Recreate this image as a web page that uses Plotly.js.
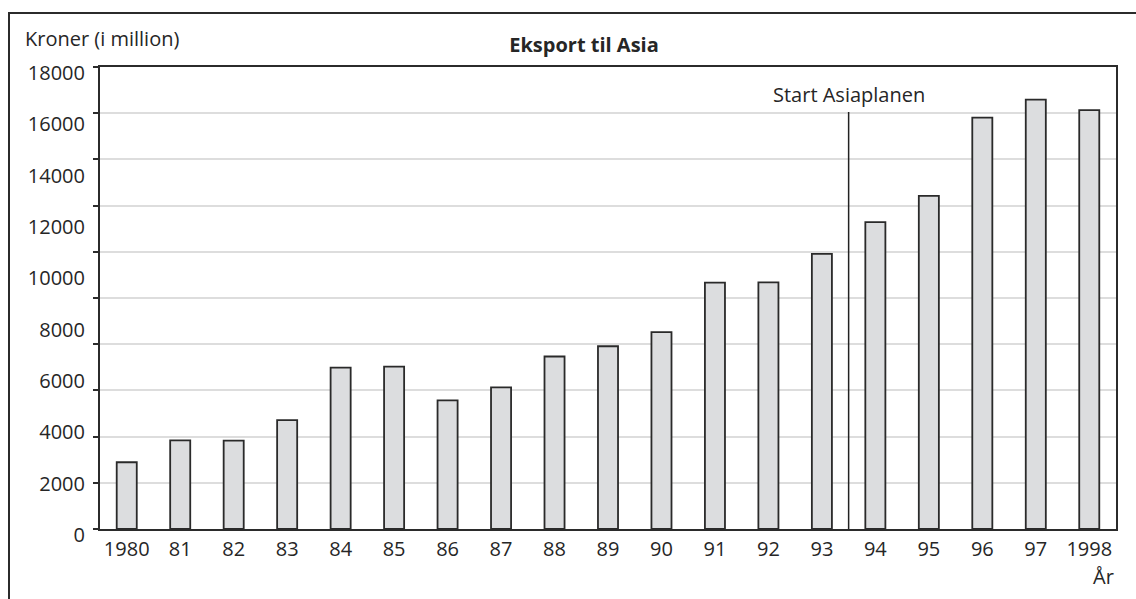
<!DOCTYPE html>
<html>
<head>
<meta charset="utf-8">
<script src="https://cdn.plot.ly/plotly-3.0.1.min.js"></script>
<style>
  html, body { margin: 0; padding: 0; background: #fff; }
  #wrap { position: relative; width: 1136px; height: 599px; overflow: hidden; background: #fff; }
  #frame { position: absolute; left: 8px; top: 12px; width: 2000px; height: 2000px;
           border-left: 2px solid #2b2b2b; border-top: 2px solid #2b2b2b; }
  #chart { position: absolute; left: 0; top: 0; width: 1136px; height: 599px; }
</style>
</head>
<body>
<div id="wrap">
  <div id="frame"></div>
  <div id="chart"></div>
</div>
<script>
// Data
var years = ['1980','81','82','83','84','85','86','87','88','89','90','91','92','93','94','95','96','97','1998'];
var exportValues = [2600, 3450, 3440, 4240, 6290, 6330, 5010, 5520, 6720, 7120, 7670, 9600, 9610, 10720, 11960, 12980, 16030, 16730, 16320];
var yLabelValues = [0, 2000, 4000, 6000, 8000, 10000, 12000, 14000, 16000, 18000];
var chartTitle = 'Eksport til Asia';
var yTitle = 'Kroner (i million)';
var xTitle = 'År';
var markerText = 'Start Asiaplanen';
var markerPosition = 13.5;     // between 93 and 94
var markerTop = 16250;

var ink = '#262626';
var fontFam = '"Open Sans", "Noto Sans", sans-serif';

var bars = {
  type: 'bar',
  x: years,
  y: exportValues,
  width: 0.375,
  marker: { color: '#dcdddf', line: { color: '#2a2a2a', width: 1.8 } },
  hoverinfo: 'x+y',
  showlegend: false
};

var labelCarrier = {
  type: 'scatter',
  x: [years[0]],
  y: [0],
  yaxis: 'y2',
  mode: 'markers',
  marker: { opacity: 0 },
  hoverinfo: 'skip',
  showlegend: false
};

var layout = {
  width: 1136,
  height: 599,
  margin: { l: 100, r: 20, t: 67, b: 70 },
  paper_bgcolor: 'rgba(0,0,0,0)',
  plot_bgcolor: 'rgba(0,0,0,0)',
  font: { family: fontFam, size: 20, color: ink },
  title: {
    text: '<b>' + chartTitle + '</b>',
    x: 584 / 1136, xanchor: 'center', xref: 'container',
    y: 1 - 45 / 599, yanchor: 'middle', yref: 'container',
    font: { family: fontFam, size: 20, color: ink }
  },
  xaxis: {
    type: 'category',
    range: [-0.5, years.length - 0.5],
    showline: true, linecolor: '#2b2b2b', linewidth: 2, mirror: true,
    ticks: '', showgrid: false, zeroline: false,
    tickfont: { family: fontFam, size: 20, color: ink },
    ticklabelstandoff: 1
  },
  yaxis: {
    range: [0, 18000],
    tickmode: 'linear', tick0: 0, dtick: 1800,
    showticklabels: false,
    ticks: 'outside', ticklen: 5, tickwidth: 1.5, tickcolor: '#2b2b2b',
    showgrid: true, gridcolor: '#dddddd', gridwidth: 1.5,
    zeroline: false,
    showline: true, linecolor: '#2b2b2b', linewidth: 2, mirror: true
  },
  yaxis2: {
    overlaying: 'y', side: 'left', anchor: 'x',
    range: [0, 18000],
    tickmode: 'array', tickvals: yLabelValues, ticktext: yLabelValues.map(String),
    ticks: '', showgrid: false, zeroline: false, showline: false,
    tickfont: { family: fontFam, size: 20, color: ink },
    ticklabelshift: 6,
    ticklabelstandoff: 14
  },
  shapes: [{
    type: 'line', xref: 'x', yref: 'y',
    x0: markerPosition, x1: markerPosition, y0: 0, y1: markerTop,
    line: { color: '#222', width: 1.5 }
  }],
  annotations: [
    {
      text: markerText, xref: 'x', yref: 'y',
      x: markerPosition, y: markerTop, xanchor: 'center', yanchor: 'bottom',
      yshift: 2, showarrow: false,
      font: { family: fontFam, size: 20, color: ink }
    },
    {
      text: yTitle, xref: 'paper', yref: 'paper',
      x: -77 / 1016, y: 1, xanchor: 'left', yanchor: 'middle', yshift: 29,
      showarrow: false, font: { family: fontFam, size: 20, color: ink }
    },
    {
      text: xTitle, xref: 'paper', yref: 'paper',
      x: 1, y: 0, xanchor: 'right', yanchor: 'middle', yshift: -47,
      showarrow: false, font: { family: fontFam, size: 20, color: ink }
    }
  ],
  bargap: 0.6,
  hovermode: 'closest'
};

Plotly.newPlot('chart', [bars, labelCarrier], layout, { displayModeBar: false, staticPlot: false });
</script>
</body>
</html>
